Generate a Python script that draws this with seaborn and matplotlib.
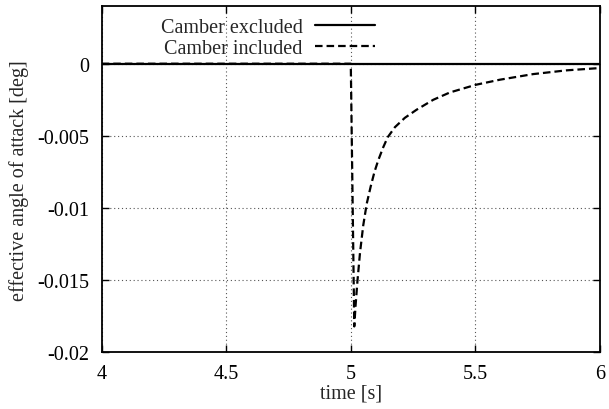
import pandas as pd
import numpy as np
import matplotlib
matplotlib.use("Agg")
import matplotlib.pyplot as plt
import seaborn as sns

# ----------------------------
# data
# ----------------------------
t_excluded = [4.0, 6.0]
aoa_excluded = [0.0, 0.0]

t_included = [4.0, 5.0, 5.014, 5.019, 5.027, 5.037, 5.050, 5.064, 5.080,
              5.095, 5.110, 5.130, 5.148, 5.177, 5.217, 5.264, 5.331,
              5.398, 5.502, 5.598, 5.732, 5.866, 6.0]
aoa_included = [0.0, 0.0, -0.0182, -0.0168, -0.0150, -0.0131, -0.0112,
                -0.0097, -0.0085, -0.0075, -0.0067, -0.0058, -0.0051,
                -0.0044, -0.00375, -0.00319, -0.0025, -0.00199, -0.00146,
                -0.00111, -0.00072, -0.00046, -0.0003]

x_ticks = [4, 4.5, 5, 5.5, 6]
x_tick_labels = ["4", "4.5", "5", "5.5", "6"]
y_ticks = [0, -0.005, -0.01, -0.015, -0.02]
y_tick_labels = ["0", "-0.005", "-0.01", "-0.015", "-0.02"]

df_ex = pd.DataFrame({"time": t_excluded, "aoa": aoa_excluded})
df_in = pd.DataFrame({"time": t_included, "aoa": aoa_included})

# ----------------------------
# style
# ----------------------------
sns.set_style("ticks")
plt.rcParams["font.family"] = ["Liberation Serif", "DejaVu Serif"]
plt.rcParams["font.size"] = 14.5
plt.rcParams["xtick.direction"] = "in"
plt.rcParams["ytick.direction"] = "in"

fig = plt.figure(figsize=(6.09, 4.10), dpi=100)
ax = fig.add_axes([0.167, 0.138, 0.818, 0.845])

sns.lineplot(data=df_ex, x="time", y="aoa", ax=ax, color="black",
             linewidth=1.6, label="Camber excluded", zorder=3)
sns.lineplot(data=df_in, x="time", y="aoa", ax=ax, color="black",
             linewidth=1.6, linestyle=(0, (3.4, 1.8)),
             label="Camber included", zorder=4)

ax.set_xlim(4, 6)
ax.set_ylim(-0.02, 0.004)
ax.set_xticks(x_ticks)
ax.set_xticklabels(x_tick_labels)
ax.set_yticks(y_ticks)
ax.set_yticklabels(y_tick_labels)

ax.grid(True, color="#555555", linestyle=(0, (1, 2.5)), linewidth=0.8)
ax.tick_params(axis="both", which="both", top=True, right=True,
               length=5, width=1, colors="black", labelsize=14.5)
ax.tick_params(axis="x", pad=8)
ax.tick_params(axis="y", pad=9)
for sp in ax.spines.values():
    sp.set_linewidth(1.3)
    sp.set_color("black")

ax.set_xlabel("time [s]", fontsize=14.5, labelpad=1)
ax.set_ylabel("effective angle of attack [deg]", fontsize=14.5, labelpad=6)

ax.legend(loc="upper right", bbox_to_anchor=(375 / 609, 1 - 19 / 410),
          bbox_transform=fig.transFigure, frameon=False, markerfirst=False,
          handlelength=3.0, handletextpad=0.6, labelspacing=0.1,
          borderpad=0, borderaxespad=0, fontsize=14.5)

plt.savefig("out.png", dpi=100)
